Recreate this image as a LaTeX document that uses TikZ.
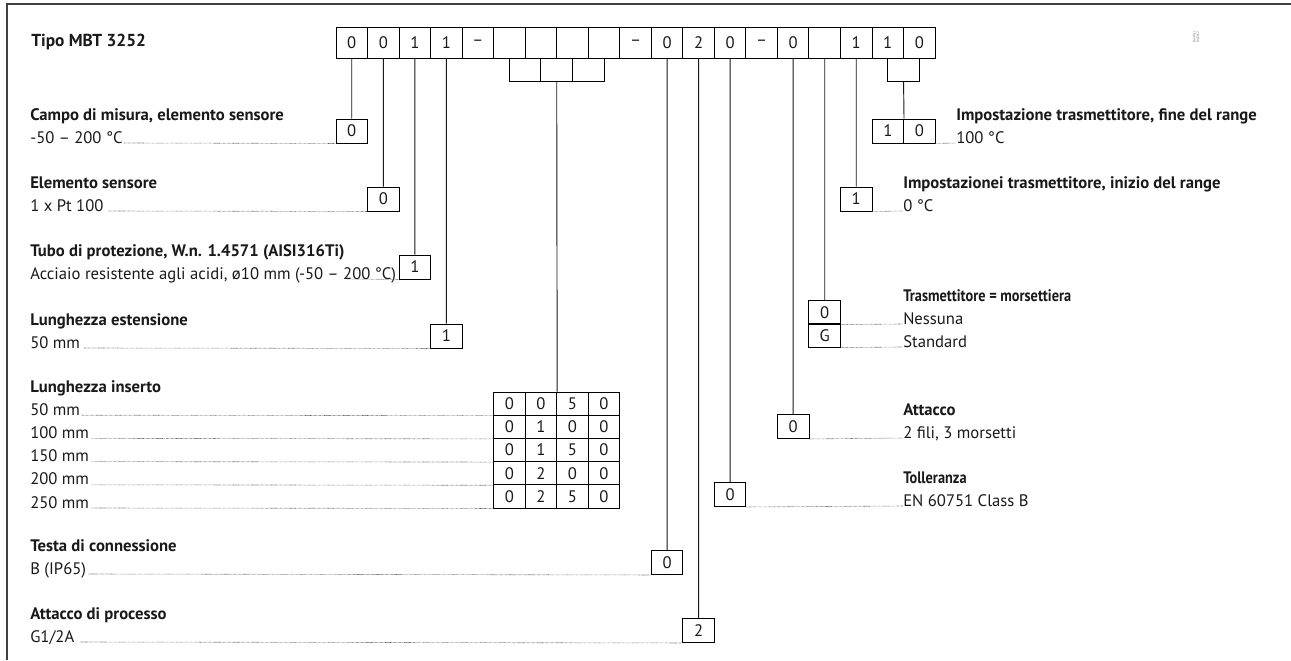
\documentclass[tikz,border=0pt]{standalone}
\usepackage{fontspec}
\setmainfont{PT Sans}
\newfontfamily\narrowf[FakeStretch=0.86]{PT Sans}
\begin{document}
\begin{tikzpicture}[x=0.75pt,y=-0.75pt,
  every node/.style={font=\fontsize{12.5}{14}\selectfont, text=black!90},
  cell/.style={draw=black, line width=0.7pt, minimum width=23.65pt, minimum height=23.25pt, inner sep=0pt},
  sbox/.style={draw=black, line width=0.7pt, minimum width=23.65pt, minimum height=18pt, inner sep=0pt},
  tcell/.style={draw=black, line width=0.7pt, minimum width=23.65pt, minimum height=17.4pt, inner sep=0pt},
  brk/.style={draw=black, line width=0.7pt, minimum width=23.65pt, minimum height=17.25pt, inner sep=0pt},
  conn/.style={draw=black!90, line width=0.7pt},
  leader/.style={draw=black!60, line width=0.45pt, dash pattern=on 0.45pt off 0.5pt},
  ttl/.style={anchor=base west, inner sep=0pt, font=\fontsize{12.5}{14}\selectfont\bfseries},
  nttl/.style={anchor=base west, inner sep=0pt, font=\fontsize{12.5}{14}\narrowf\bfseries},
  sub/.style={anchor=base west, inner sep=0pt},
  frame/.style={draw=black!75, line width=1.4pt},
]
\useasboundingbox (0,0) rectangle (1291,660);
% frame
\draw[frame] (7,660) -- (7,4) -- (1291,4);
% tiny note
\node[rotate=90, font=\fontsize{2.5}{2.8}\selectfont, align=center, text=black!60] (note) at (1196,37) {Danfoss\\84Z112};
% header
\node[ttl, font=\fontsize{13}{15}\selectfont\bfseries] (tipo) at (31,47) {Tipo MBT 3252};
\foreach \lab [count=\i from 0] in {0,0,1,1,–,\ ,\ ,\ ,\ ,–,0,2,0,–,0,\ ,1,1,0}
  \node[cell] (t\i) at ({336+31.53*(\i+0.5)},42.5) {\lab};
% brackets
\node[brk] (br1) at (525.18,69.5) {};
\node[brk] (br2) at (556.71,69.5) {};
\node[brk] (br3) at (588.24,69.5) {};
\node[brk] (brf) at (903.54,69.5) {};
% left side boxes
\node[sbox] (campo) at (351.77,131) {0};
\node[sbox] (elem) at (383.30,199) {0};
\node[sbox] (tubo) at (414.83,267) {1};
\node[sbox] (lest) at (446.36,336) {1};
\node[sbox] (testa) at (667.07,562.5) {0};
\node[sbox] (proc) at (698.60,630.5) {2};
% right side boxes
\node[sbox] (toll) at (730.13,494.5) {0};
\node[sbox] (att) at (793.19,426.5) {0};
\node[tcell] (tr0) at (824.72,312.5) {0};
\node[tcell] (trg) at (824.72,335.5) {G};
\node[sbox] (ini) at (856.25,199) {1};
\node[sbox] (f1) at (887.78,131) {1};
\node[sbox] (f2) at (919.31,131) {0};
% table
\foreach \row [count=\r from 0] in {{0,0,5,0},{0,1,0,0},{0,1,5,0},{0,2,0,0},{0,2,5,0}}
  \foreach \d [count=\c from 0] in \row
    \node[tcell] (c\r\c) at ({336+31.53*(5.5+\c)},{392+23.2*(\r+0.5)}) {\d};
% connectors
\draw[conn] (t0.south) -- (campo.north);
\draw[conn] (t1.south) -- (elem.north);
\draw[conn] (t2.south) -- (tubo.north);
\draw[conn] (t3.south) -- (lest.north);
\draw[conn] (br2.south) -- (c01.north east);
\draw[conn] (t10.south) -- (testa.north);
\draw[conn] (t11.south) -- (proc.north);
\draw[conn] (t12.south) -- (toll.north);
\draw[conn] (t14.south) -- (att.north);
\draw[conn] (t15.south) -- (tr0.north);
\draw[conn] (t16.south) -- (ini.north);
\draw[conn] (brf.south) -- (f1.north east);
% left texts
\node[ttl] (ct) at (30,120) {Campo di misura, elemento sensore};
\node[sub] (cs) at (30,143) {-50 – 200 °C};
\draw[leader] ([xshift=1pt]cs.base east) -- (campo.south west);
\node[ttl] (et) at (30,188) {Elemento sensore};
\node[sub] (es) at (30,211) {1 x Pt 100};
\draw[leader] ([xshift=3pt]es.base east) -- (elem.south west);
\node[ttl] (tt) at (30,256) {Tubo di protezione, W.n. 1.4571 (AISI316Ti)};
\node[sub] (ts) at (30,279) {Acciaio resistente agli acidi, ø10 mm (-50 – 200 °C)};
\coordinate (tl) at (347,279);
\draw[leader] (tl) -- (tubo.south west);
\node[ttl] (lt) at (30,325) {Lunghezza estensione};
\node[sub] (ls) at (30,348) {50 mm};
\draw[leader] ([xshift=3pt]ls.base east) -- (lest.south west);
\node[ttl] (it) at (30,392) {Lunghezza inserto};
\foreach \txt [count=\r from 0] in {50 mm,100 mm,150 mm,200 mm,250 mm} {
  \node[sub] (l\r) at (30,{392+23.2*(\r+1)}) {\txt};
  \draw[leader] ([xshift=1.5pt]l\r.base east) -- (c\r0.south west);
}
\node[ttl] (tct) at (30,551) {Testa di connessione};
\node[sub] (tcs) at (30,574) {B (IP65)};
\draw[leader] ([xshift=1.5pt]tcs.base east) -- (testa.south west);
\node[ttl] (pt) at (30,619) {Attacco di processo};
\node[sub] (ps) at (30,642) {G1/2A};
\draw[leader] ([xshift=4pt]ps.base east) -- (proc.south west);
% right texts
\node[ttl] (ft) at (956,120) {Impostazione trasmettitore, fine del range};
\node[sub] (fs) at (956,143) {100 °C};
\draw[leader] (f2.south east) -- (fs.base west);
\node[ttl] (itt) at (903,188) {Impostazionei trasmettitore, inizio del range};
\node[sub] (its) at (903,211) {0 °C};
\draw[leader] (ini.south east) -- (its.base west);
\node[nttl] (trt) at (903,301) {Trasmettitore = morsettiera};
\node[sub] (n1) at (903,324) {Nessuna};
\node[sub] (n2) at (903,347) {Standard};
\draw[leader] (tr0.south east) -- (n1.base west);
\draw[leader] (trg.south east) -- (n2.base west);
\node[ttl] (at) at (903,415) {Attacco};
\node[sub] (as) at (903,438) {2 fili, 3 morsetti};
\draw[leader] (att.south east) -- (as.base west);
\node[nttl] (tot) at (903,483) {Tolleranza};
\node[sub] (tos) at (903,506) {EN 60751 Class B};
\draw[leader] (toll.south east) -- (tos.base west);
\end{tikzpicture}
\end{document}
